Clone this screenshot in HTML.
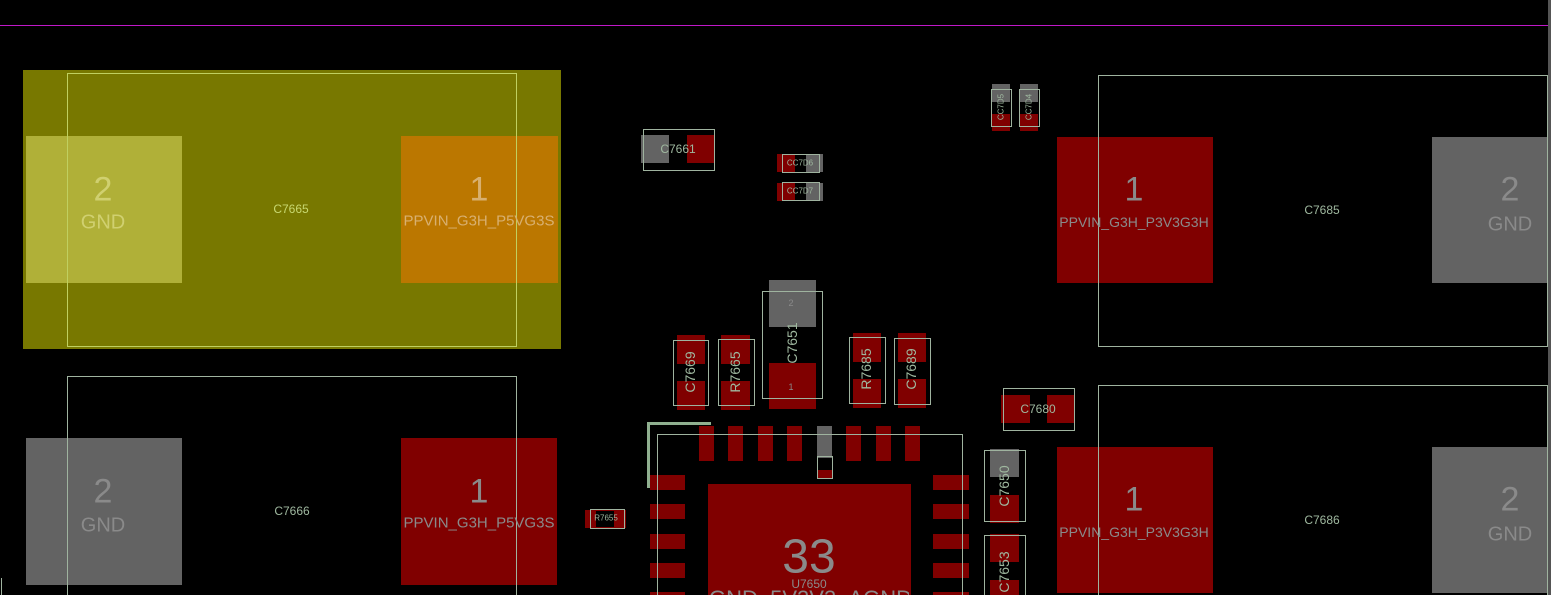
<!DOCTYPE html><html style="width:1551px;height:595px;overflow:hidden"><head><style>
html,body{margin:0;padding:0}
body{width:1551px;height:595px;background:#000;overflow:hidden;font-family:"Liberation Sans",sans-serif}
#w{position:relative;width:1551px;height:595px;overflow:hidden;background:#000}
#w div{position:absolute;box-sizing:border-box}
.r{background:#800000}.g{background:#636363}
.o{border:1px solid #9fb39f}
.t{color:#9fb89f;white-space:nowrap;transform:translate(-50%,-50%)}
.v{color:#9fb89f;white-space:nowrap;transform:translate(-50%,-50%) rotate(-90deg)}
.p{color:#8a8a8a;white-space:nowrap;transform:translate(-50%,-50%)}
</style></head><body><div id="w">
<div style="left:0;top:25px;width:1548px;height:1px;background:#c018c8"></div>
<div style="left:1548px;top:0;width:3px;height:595px;background:#555"></div>

<div style="left:23px;top:70px;width:538px;height:279px;background:#787800"></div>
<div style="left:26px;top:136px;width:156px;height:147px;background:#b0b038"></div>
<div style="left:401px;top:136px;width:157px;height:147px;background:#bb7700"></div>
<div style="left:67px;top:73px;width:450px;height:274px;border:1px solid #c0d060"></div>
<div class="t" style="left:103px;top:190px;font-size:34px;color:#d0d070">2</div>
<div class="t" style="left:103px;top:223px;font-size:20px;color:#d0d070">GND</div>
<div class="t" style="left:479px;top:190px;font-size:34px;color:#d8b070">1</div>
<div class="t" style="left:479px;top:221px;font-size:15px;color:#d8b070">PPVIN_G3H_P5VG3S</div>
<div class="t" style="left:291px;top:209px;font-size:12px;color:#c8d870">C7665</div>

<div class="g" style="left:26px;top:438px;width:156px;height:147px"></div>
<div class="r" style="left:401px;top:438px;width:156px;height:147px"></div>
<div style="left:67px;top:376px;width:450px;height:219px;border:1px solid #9fb39f;border-bottom:none"></div>
<div class="p" style="left:103px;top:492px;font-size:34px">2</div>
<div class="p" style="left:103px;top:526px;font-size:20px">GND</div>
<div class="p" style="left:479px;top:492px;font-size:34px">1</div>
<div class="p" style="left:479px;top:523px;font-size:15px">PPVIN_G3H_P5VG3S</div>
<div class="t" style="left:292px;top:511px;font-size:12px">C7666</div>
<div style="left:1px;top:578px;width:1px;height:17px;background:#9fb39f"></div>

<div class="r" style="left:585px;top:510px;width:41px;height:18px"></div>
<div style="left:596px;top:511px;width:18px;height:16px;background:#000"></div>
<div class="o" style="left:590px;top:509px;width:35px;height:20px"></div>
<div class="t" style="left:606px;top:518px;font-size:8px">R7655</div>

<div class="r" style="left:1057px;top:137px;width:156px;height:146px"></div>
<div class="g" style="left:1432px;top:137px;width:116px;height:146px"></div>
<div class="o" style="left:1098px;top:75px;width:450px;height:272px"></div>
<div class="p" style="left:1134px;top:190px;font-size:34px">1</div>
<div class="p" style="left:1134px;top:222px;font-size:14px">PPVIN_G3H_P3V3G3H</div>
<div class="p" style="left:1510px;top:190px;font-size:34px">2</div>
<div class="p" style="left:1510px;top:225px;font-size:20px">GND</div>
<div class="t" style="left:1322px;top:210px;font-size:12px">C7685</div>

<div class="r" style="left:1057px;top:447px;width:156px;height:146px"></div>
<div class="g" style="left:1432px;top:447px;width:116px;height:146px"></div>
<div style="left:1098px;top:385px;width:450px;height:210px;border:1px solid #9fb39f;border-bottom:none"></div>
<div class="p" style="left:1134px;top:500px;font-size:34px">1</div>
<div class="p" style="left:1134px;top:532px;font-size:14px">PPVIN_G3H_P3V3G3H</div>
<div class="p" style="left:1510px;top:500px;font-size:34px">2</div>
<div class="p" style="left:1510px;top:535px;font-size:20px">GND</div>
<div class="t" style="left:1322px;top:520px;font-size:12px">C7686</div>

<div class="g" style="left:641px;top:135px;width:28px;height:28px"></div>
<div class="r" style="left:687px;top:135px;width:27px;height:28px"></div>
<div class="o" style="left:643px;top:129px;width:72px;height:42px"></div>
<div class="t" style="left:678px;top:149px;font-size:12px">C7661</div>

<div class="r" style="left:777px;top:154px;width:18px;height:18px"></div>
<div class="g" style="left:806px;top:154px;width:17px;height:18px"></div>
<div class="o" style="left:782px;top:154px;width:38px;height:19px"></div>
<div class="t" style="left:800px;top:163px;font-size:8px">CC7D6</div>
<div class="r" style="left:777px;top:183px;width:18px;height:18px"></div>
<div class="g" style="left:806px;top:183px;width:17px;height:18px"></div>
<div class="o" style="left:782px;top:182px;width:38px;height:19px"></div>
<div class="t" style="left:800px;top:191px;font-size:8px">CC7D7</div>

<div class="g" style="left:992px;top:84px;width:18px;height:18px"></div>
<div class="r" style="left:992px;top:114px;width:18px;height:17px"></div>
<div class="o" style="left:991px;top:89px;width:21px;height:38px"></div>
<div class="v" style="left:1001px;top:107px;font-size:8px">CC7D5</div>
<div class="g" style="left:1020px;top:84px;width:18px;height:18px"></div>
<div class="r" style="left:1020px;top:114px;width:18px;height:17px"></div>
<div class="o" style="left:1019px;top:89px;width:21px;height:38px"></div>
<div class="v" style="left:1029px;top:107px;font-size:8px">CC7D4</div>

<div class="g" style="left:769px;top:280px;width:47px;height:47px"></div>
<div class="r" style="left:769px;top:363px;width:47px;height:46px"></div>
<div class="o" style="left:762px;top:291px;width:61px;height:108px"></div>
<div class="p" style="left:791px;top:303px;font-size:9px">2</div>
<div class="p" style="left:791px;top:387px;font-size:9px">1</div>
<div class="v" style="left:792px;top:343px;font-size:14px">C7651</div>

<div class="r" style="left:677px;top:335px;width:28px;height:29px"></div>
<div class="r" style="left:677px;top:381px;width:28px;height:29px"></div>
<div class="o" style="left:673px;top:340px;width:36px;height:66px"></div>
<div class="v" style="left:690px;top:372px;font-size:14px">C7669</div>
<div class="r" style="left:721px;top:335px;width:29px;height:29px"></div>
<div class="r" style="left:721px;top:381px;width:29px;height:29px"></div>
<div class="o" style="left:718px;top:339px;width:37px;height:67px"></div>
<div class="v" style="left:735px;top:372px;font-size:14px">R7665</div>
<div class="r" style="left:853px;top:333px;width:28px;height:29px"></div>
<div class="r" style="left:853px;top:379px;width:28px;height:29px"></div>
<div class="o" style="left:849px;top:337px;width:37px;height:67px"></div>
<div class="v" style="left:866px;top:369px;font-size:14px">R7685</div>
<div class="r" style="left:898px;top:333px;width:28px;height:29px"></div>
<div class="r" style="left:898px;top:379px;width:28px;height:29px"></div>
<div class="o" style="left:894px;top:338px;width:37px;height:67px"></div>
<div class="v" style="left:911px;top:369px;font-size:14px">C7689</div>

<div class="r" style="left:699px;top:426px;width:15px;height:35px"></div>
<div class="r" style="left:728px;top:426px;width:15px;height:35px"></div>
<div class="r" style="left:758px;top:426px;width:15px;height:35px"></div>
<div class="r" style="left:787px;top:426px;width:15px;height:35px"></div>
<div class="g" style="left:817px;top:426px;width:15px;height:32px"></div>
<div class="r" style="left:846px;top:426px;width:15px;height:35px"></div>
<div class="r" style="left:876px;top:426px;width:15px;height:35px"></div>
<div class="r" style="left:905px;top:426px;width:15px;height:35px"></div>
<div class="r" style="left:818px;top:470px;width:14px;height:8px"></div>
<div class="o" style="left:817px;top:456px;width:16px;height:23px"></div>
<div class="r" style="left:650px;top:475px;width:35px;height:15px"></div>
<div class="r" style="left:650px;top:504px;width:35px;height:15px"></div>
<div class="r" style="left:650px;top:534px;width:35px;height:15px"></div>
<div class="r" style="left:650px;top:563px;width:35px;height:15px"></div>
<div class="r" style="left:650px;top:592px;width:35px;height:3px"></div>
<div class="r" style="left:933px;top:475px;width:36px;height:15px"></div>
<div class="r" style="left:933px;top:504px;width:36px;height:15px"></div>
<div class="r" style="left:933px;top:534px;width:36px;height:15px"></div>
<div class="r" style="left:933px;top:563px;width:36px;height:15px"></div>
<div class="r" style="left:933px;top:592px;width:36px;height:3px"></div>
<div class="r" style="left:708px;top:484px;width:203px;height:111px"></div>
<div style="left:657px;top:434px;width:306px;height:161px;border:1px solid #9fb39f;border-bottom:none"></div>
<div style="left:647px;top:422px;width:64px;height:3px;background:#90b090"></div>
<div style="left:647px;top:422px;width:3px;height:66px;background:#90b090"></div>
<div class="p" style="left:809px;top:557px;font-size:48px">33</div>
<div class="p" style="left:809px;top:584px;font-size:12px">U7650</div>
<div style="left:709px;top:588px;width:200px;height:7px;overflow:hidden"><div style="left:0;top:0;width:200px;text-align:center;color:#8a8a8a;font-size:22px;line-height:22px;white-space:nowrap">GND_5V3V3_AGND</div></div>

<div class="r" style="left:1001px;top:395px;width:29px;height:28px"></div>
<div class="r" style="left:1047px;top:395px;width:28px;height:28px"></div>
<div class="o" style="left:1003px;top:388px;width:72px;height:43px"></div>
<div class="t" style="left:1038px;top:409px;font-size:12px">C7680</div>

<div class="g" style="left:990px;top:449px;width:29px;height:28px"></div>
<div class="r" style="left:990px;top:495px;width:29px;height:28px"></div>
<div class="o" style="left:984px;top:450px;width:42px;height:72px"></div>
<div class="v" style="left:1004px;top:486px;font-size:14px">C7650</div>
<div class="r" style="left:990px;top:534px;width:29px;height:28px"></div>
<div class="r" style="left:990px;top:580px;width:29px;height:15px"></div>
<div style="left:984px;top:535px;width:42px;height:60px;border:1px solid #9fb39f;border-bottom:none"></div>
<div class="v" style="left:1004px;top:572px;font-size:14px">C7653</div>
</div></body></html>
